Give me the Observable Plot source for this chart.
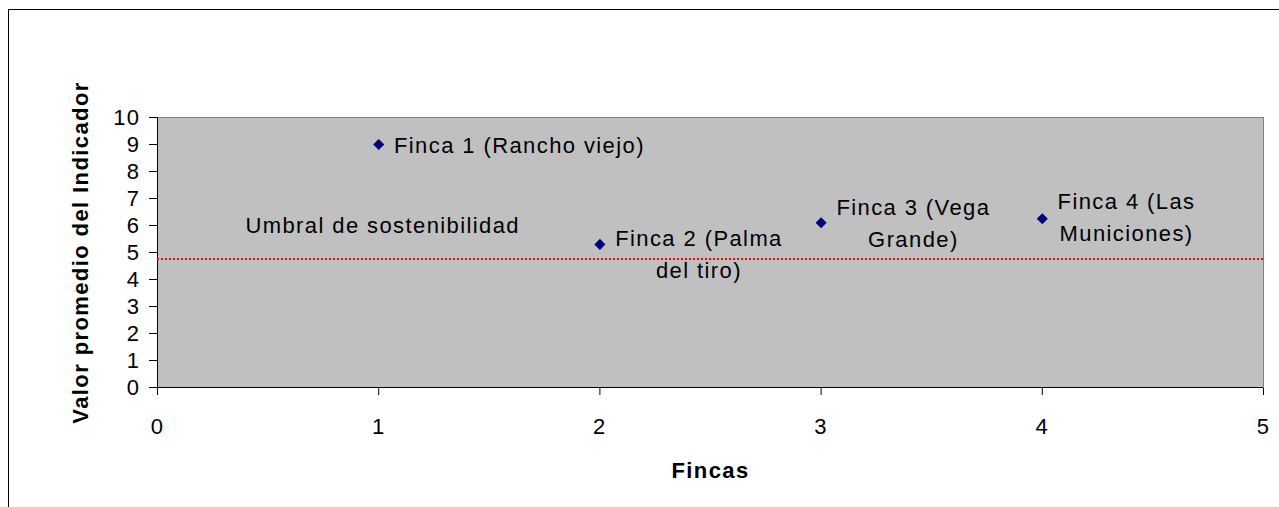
<!DOCTYPE html>
<html>
<head>
<meta charset="utf-8">
<script src="https://cdn.jsdelivr.net/npm/d3@7"></script>
<script src="https://cdn.jsdelivr.net/npm/@observablehq/plot@0.6"></script>
<style>
  html, body { margin: 0; padding: 0; background: white; }
  #chart svg { display: block; }
</style>
</head>
<body>
<div id="chart"></div>
<script>
// ---- data ----
const fincas = [1, 2, 3, 4];
const valores = [9, 5.3, 6.1, 6.25];
const etiquetas = [
  "Finca 1 (Rancho viejo)",
  "Finca 2 (Palma\ndel tiro)",
  "Finca 3 (Vega\nGrande)",
  "Finca 4 (Las\nMuniciones)"
];
const umbral = 4.76;
const umbralTexto = "Umbral de sostenibilidad";
const xTicks = [0, 1, 2, 3, 4, 5];
const yTicks = [0, 1, 2, 3, 4, 5, 6, 7, 8, 9, 10];
const xTitulo = "Fincas";
const yTitulo = "Valor promedio del Indicador";

// ---- text measurement for centered multi-line labels ----
const FONT = "'Liberation Sans', Arial, sans-serif";
const FS = 22, LS = 1.4;
const ctx = document.createElement("canvas").getContext("2d");
ctx.font = `${FS}px ${FONT}`;
const textW = (s) => ctx.measureText(s).width + (s.length - 1) * LS;
const blockW = (s) => Math.max(...s.split("\n").map(textW));

const idx = d3.range(fincas.length);
const labelDy = [-2, 7, -2, -4];

const labelMarks = idx.map(i =>
  Plot.text([i], {
    x: d => fincas[d],
    y: d => valores[d],
    text: d => etiquetas[d],
    textAnchor: "middle",
    lineAnchor: "middle",
    lineHeight: 1.45,
    dx: 16 + blockW(etiquetas[i]) / 2,
    dy: labelDy[i]
  })
);

const chart = Plot.plot({
  width: 1279,
  height: 507,
  marginLeft: 157,
  marginRight: 16,
  marginTop: 117,
  marginBottom: 120,
  style: {
    fontFamily: FONT,
    fontSize: FS + "px",
    letterSpacing: LS + "px",
    background: "white",
    color: "black"
  },
  x: { domain: [0, 5], ticks: xTicks, tickFormat: d3.format("d"), tickSize: 8, tickPadding: 23, label: null },
  y: { domain: [0, 10], ticks: yTicks, tickFormat: d3.format("d"), tickSize: 8, tickPadding: 9, label: null },
  marks: [
    // outer chart border
    Plot.frame({ fill: "none", stroke: "black", insetLeft: -149, insetTop: -108, insetRight: -40, insetBottom: -140 }),
    // plot area
    Plot.frame({ fill: "#c0c0c0", stroke: "#808080" }),
    Plot.ruleX([0], { stroke: "black" }),
    Plot.ruleY([0], { stroke: "black" }),
    // threshold
    Plot.ruleY([umbral], { stroke: "#ff0000", strokeWidth: 2, strokeDasharray: "2,2" }),
    Plot.text([umbralTexto], { x: 1, y: 6, text: d => d, dx: 4, textAnchor: "middle" }),
    // points
    Plot.dot(idx, { x: d => fincas[d], y: d => valores[d], symbol: "diamond2", r: 5, fill: "#000080", stroke: "none" }),
    ...labelMarks,
    // axis titles
    Plot.text([yTitulo], { frameAnchor: "left", dx: -77, rotate: -90, text: d => d, fontWeight: "bold", textAnchor: "middle", lineAnchor: "middle" }),
    Plot.text([xTitulo], { frameAnchor: "bottom", dy: 83, text: d => d, fontWeight: "bold", textAnchor: "middle", lineAnchor: "middle" })
  ]
});

document.getElementById("chart").appendChild(chart);
</script>
</body>
</html>
